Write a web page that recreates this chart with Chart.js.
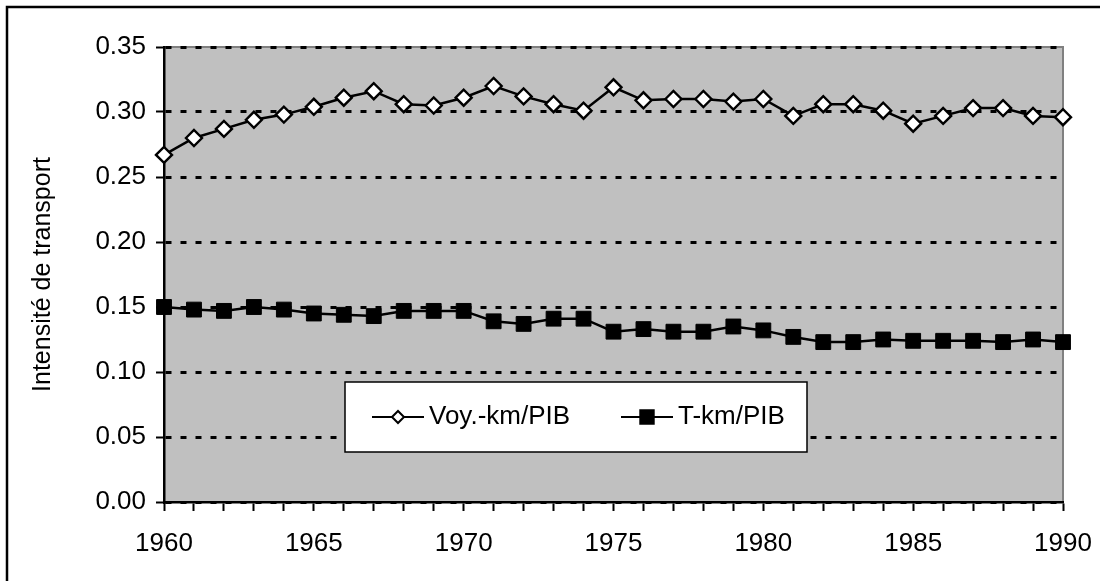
<!DOCTYPE html>
<html>
<head>
<meta charset="utf-8">
<script src="https://cdn.jsdelivr.net/npm/chart.js@4.4.1/dist/chart.umd.min.js"></script>
<style>
  html, body { margin: 0; padding: 0; background: #fff; }
  #wrap { width: 1100px; height: 581px; }
</style>
</head>
<body>
<div id="wrap"><canvas id="mycanvas" width="1100" height="581"></canvas></div>
<script>
var years = [1960, 1961, 1962, 1963, 1964, 1965, 1966, 1967, 1968, 1969,
             1970, 1971, 1972, 1973, 1974, 1975, 1976, 1977, 1978, 1979,
             1980, 1981, 1982, 1983, 1984, 1985, 1986, 1987, 1988, 1989, 1990];
var labelledYears = [1960, 1965, 1970, 1975, 1980, 1985, 1990];

// voyageurs-km / PIB
var voyKm = [0.267, 0.280, 0.287, 0.294, 0.298, 0.304, 0.311, 0.316, 0.306, 0.305,
             0.311, 0.320, 0.312, 0.306, 0.301, 0.319, 0.309, 0.310, 0.310, 0.308,
             0.310, 0.297, 0.306, 0.306, 0.301, 0.291, 0.297, 0.303, 0.303, 0.297, 0.296];
// tonnes-km / PIB
var tKm = [0.150, 0.148, 0.147, 0.150, 0.148, 0.145, 0.144, 0.143, 0.147, 0.147,
           0.147, 0.139, 0.137, 0.141, 0.141, 0.131, 0.133, 0.131, 0.131, 0.135,
           0.132, 0.127, 0.123, 0.123, 0.125, 0.124, 0.124, 0.124, 0.123, 0.125, 0.123];

var seriesNames = ['Voy.-km/PIB', 'T-km/PIB'];
var yTitle = 'Intensité de transport';

Chart.defaults.font.family = '"Liberation Sans", Arial, sans-serif';
Chart.defaults.font.size = 26;
Chart.defaults.color = '#000';

// grey plot background, plot frame and outer frame
var backdrop = {
  id: 'backdrop',
  beforeDraw: function(chart) {
    var ctx = chart.ctx, a = chart.chartArea;
    ctx.save();
    ctx.fillStyle = '#fff';
    ctx.fillRect(0, 0, chart.width, chart.height);
    ctx.fillStyle = '#c0c0c0';
    ctx.fillRect(a.left, a.top, a.right - a.left, a.bottom - a.top);
    ctx.strokeStyle = '#808080';
    ctx.lineWidth = 2;
    ctx.beginPath();
    ctx.moveTo(a.left, a.top);
    ctx.lineTo(a.right, a.top);
    ctx.lineTo(a.right, a.bottom);
    ctx.stroke();
    ctx.strokeStyle = '#000';
    ctx.lineWidth = 2.5;
    ctx.strokeRect(7, 7, chart.width + 20, chart.height + 20);
    ctx.restore();
  }
};

// boxed legend sitting inside the plot
var boxLegend = {
  id: 'boxLegend',
  afterDraw: function(chart) {
    var ctx = chart.ctx;
    var box = { x: 345, y: 382, w: 462, h: 70 };
    ctx.save();
    ctx.fillStyle = '#fff';
    ctx.fillRect(box.x, box.y, box.w, box.h);
    ctx.strokeStyle = '#000';
    ctx.lineWidth = 1.5;
    ctx.strokeRect(box.x, box.y, box.w, box.h);
    var starts = [372, 621];
    var cy = box.y + 35;
    chart.data.datasets.forEach(function(ds, i) {
      var x0 = starts[i];
      ctx.strokeStyle = ds.borderColor;
      ctx.lineWidth = 2;
      ctx.beginPath();
      ctx.moveTo(x0, cy);
      ctx.lineTo(x0 + 52, cy);
      ctx.stroke();
      ctx.fillStyle = ds.pointBackgroundColor;
      ctx.strokeStyle = ds.pointBorderColor;
      ctx.lineWidth = 2;
      Chart.helpers.drawPoint(ctx, {
        pointStyle: ds.pointStyle,
        radius: i === 0 ? 6 : 9.5,
        rotation: 0,
        borderWidth: 2
      }, x0 + 26, cy);
      ctx.fillStyle = '#000';
      ctx.font = '26px "Liberation Sans", Arial, sans-serif';
      ctx.textBaseline = 'middle';
      ctx.textAlign = 'left';
      ctx.fillText(ds.label, x0 + 57, cy);
    });
    ctx.restore();
  }
};

var ctx = document.getElementById('mycanvas');

var chartdata = {
  labels: years,
  datasets: [
    {
      label: seriesNames[0],
      data: voyKm,
      borderColor: '#000',
      borderWidth: 2.5,
      pointStyle: 'rectRot',
      pointRadius: 8,
      pointBackgroundColor: '#fff',
      pointBorderColor: '#000',
      pointBorderWidth: 2.4,
      tension: 0
    },
    {
      label: seriesNames[1],
      data: tKm,
      borderColor: '#000',
      borderWidth: 2.5,
      pointStyle: 'rect',
      pointRadius: 10.5,
      pointBackgroundColor: '#000',
      pointBorderColor: '#000',
      pointBorderWidth: 1,
      tension: 0
    }
  ]
};

var lineGraph = new Chart(ctx, {
  type: 'line',
  data: chartdata,
  plugins: [backdrop, boxLegend],
  options: {
    responsive: false,
    animation: false,
    layout: { padding: { top: 47, right: 37, left: 0, bottom: 0 } },
    plugins: {
      legend: { display: false },
      tooltip: { enabled: false }
    },
    scales: {
      x: {
        type: 'category',
        offset: false,
        afterFit: function(s) {
          s.height = 79;
          // the 1990 label may hang past the plot edge
          s.paddingLeft = 0;
          s.paddingRight = 0;
        },
        grid: {
          drawOnChartArea: false,
          drawTicks: true,
          tickLength: 9,
          tickWidth: 2,
          tickColor: '#000'
        },
        border: { color: '#000', width: 2.5 },
        ticks: {
          autoSkip: false,
          maxRotation: 0,
          padding: 17,
          callback: function(v, i) {
            var yr = years[i];
            return labelledYears.indexOf(yr) >= 0 ? String(yr) : '';
          }
        }
      },
      y: {
        min: 0,
        max: 0.35,
        afterFit: function(s) { s.width = 164; },
        grid: {
          color: '#000',
          lineWidth: 3,
          tickLength: 8,
          tickWidth: 2,
          tickColor: '#000',
          tickBorderDash: []
        },
        border: { color: '#000', width: 2.5, dash: [6, 9] },
        ticks: {
          stepSize: 0.05,
          padding: 10,
          callback: function(v) { return Number(v).toFixed(2); }
        },
        title: {
          display: true,
          text: yTitle,
          padding: { top: 28, bottom: 0 },
          font: { size: 25 }
        }
      }
    }
  }
});
</script>
</body>
</html>
